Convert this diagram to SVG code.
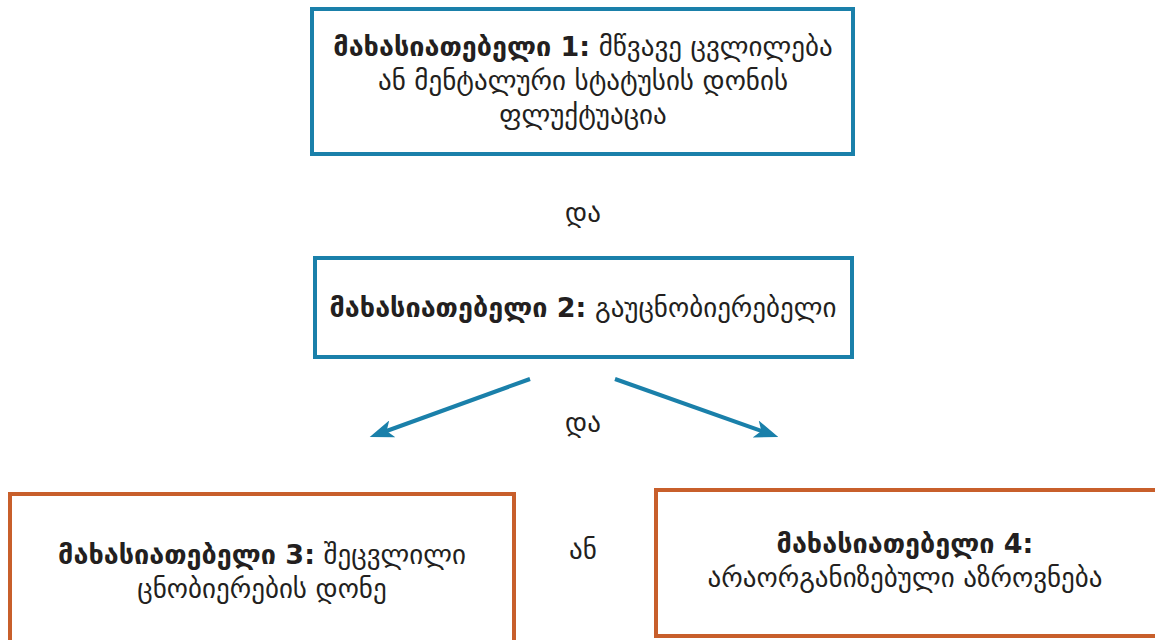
<svg xmlns="http://www.w3.org/2000/svg" width="1155" height="640" viewBox="0 0 1155 640">
  <style>
    .blue { fill: #ffffff; stroke: #1a80aa; stroke-width: 4; }
    .orange { fill: #ffffff; stroke: #c85f2b; stroke-width: 4; }
    text { font-family: "DejaVu Sans", "Noto Sans", sans-serif; font-size: 27px; fill: #231f20; text-anchor: middle; }
    .b { font-weight: bold; }
    .conn { stroke: #1a80aa; stroke-width: 4; fill: none; }
  </style>
  <defs>
    <marker id="head" viewBox="0 0 24 18" refX="12" refY="9" markerWidth="24" markerHeight="18" markerUnits="userSpaceOnUse" orient="auto">
      <path d="M0,0 L24,9 L0,18 L6,9 Z" fill="#1a80aa"/>
    </marker>
  </defs>
  <rect width="1155" height="640" fill="#ffffff"/>

  <g id="node1">
    <rect class="blue" x="312" y="9" width="541" height="145"/>
    <text x="583" y="56"><tspan class="b">მახასიათებელი 1:</tspan> მწვავე ცვლილება</text>
    <text x="583" y="90">ან მენტალური სტატუსის დონის</text>
    <text x="583" y="124">ფლუქტუაცია</text>
  </g>

  <g id="label-and1">
    <text x="583" y="222">და</text>
  </g>

  <g id="node2">
    <rect class="blue" x="315" y="258" width="537" height="99"/>
    <text x="583" y="317"><tspan class="b">მახასიათებელი 2:</tspan> გაუცნობიერებელი</text>
  </g>

  <g id="connectors">
    <line class="conn" x1="530" y1="379" x2="381" y2="433" marker-end="url(#head)"/>
    <line class="conn" x1="615" y1="379" x2="767" y2="433" marker-end="url(#head)"/>
  </g>

  <g id="label-and2">
    <text x="583" y="432">და</text>
  </g>

  <g id="node3">
    <rect class="orange" x="10" y="494" width="504" height="160"/>
    <text x="262" y="564"><tspan class="b">მახასიათებელი 3:</tspan> შეცვლილი</text>
    <text x="262" y="598">ცნობიერების დონე</text>
  </g>

  <g id="label-or">
    <text x="583" y="559">ან</text>
  </g>

  <g id="node4">
    <rect class="orange" x="656" y="490" width="520" height="146"/>
    <text x="905" y="553" class="b">მახასიათებელი 4:</text>
    <text x="905" y="587">არაორგანიზებული აზროვნება</text>
  </g>
</svg>
